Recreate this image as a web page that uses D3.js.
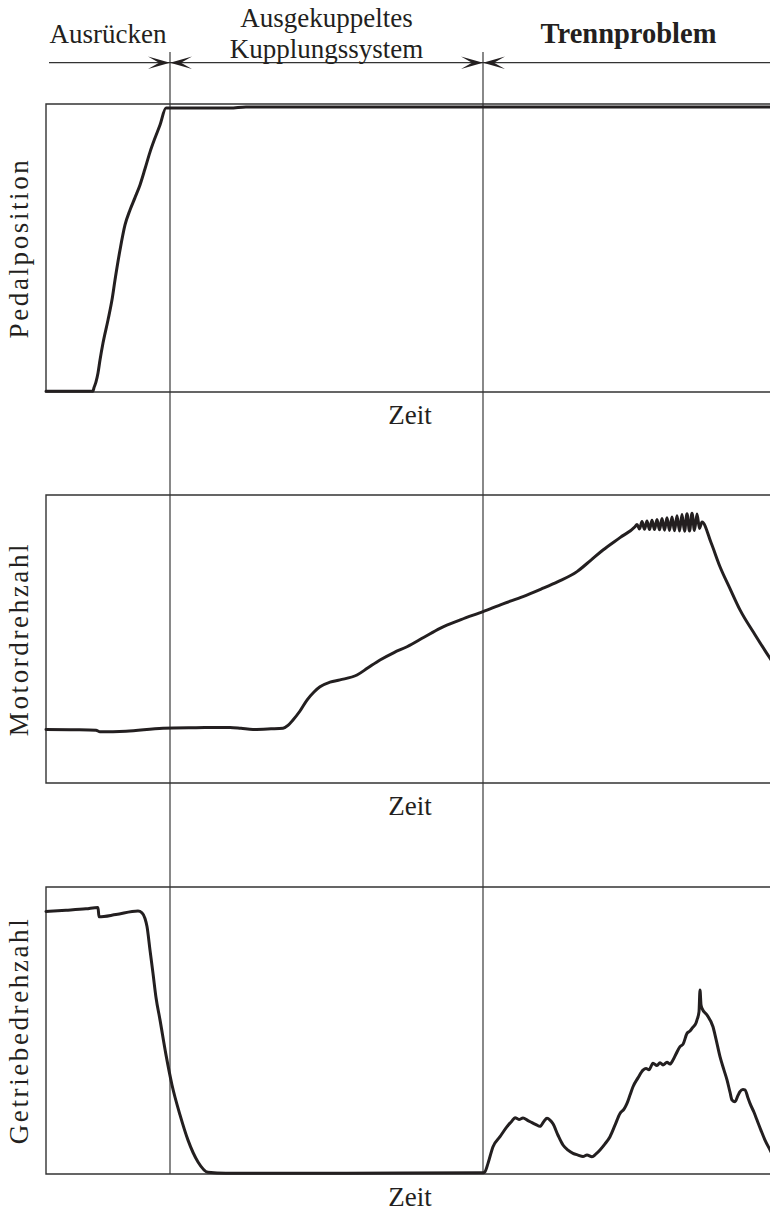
<!DOCTYPE html>
<html><head><meta charset="utf-8">
<script src="https://cdn.jsdelivr.net/npm/d3@7"></script>
<style>
html,body{margin:0;padding:0;background:#fff;}
svg{display:block;}
text{font-family:"Liberation Serif","DejaVu Serif",serif;fill:#231f20;}
</style></head>
<body>
<svg id="chart" width="770" height="1214"></svg>
<script>
// ---- data (time in arbitrary units, values in % of panel range) ----
const phaseLabels = [["Ausrücken"], ["Ausgekuppeltes","Kupplungssystem"], ["Trennproblem"]];
const phaseBounds = [0, 124, 437, 728];
const panelLabels = ["Pedalposition", "Motordrehzahl", "Getriebedrehzahl"];
const xLabel = "Zeit";

const pedalTime  = [0,47,48,50,52,54,57,62,66,69,74,79,84,89,94,99,104,109,114,120,184,200,728];
const pedalValue = [0.3,0.3,1.5,3.5,6.6,11.1,17,25,32,38.9,49.3,58,63.2,67.5,71.9,77.5,83.3,88.2,92.7,98.6,98.6,99.0,99.0];

const motorTime  = [0,30,50,54,80,117,150,184,195,207,225,237,242,247,254,261,268,274,284,294,311,322,334,348,361,378,394,415,437,457,477,495,512,531,545,557,574,589,
  591,593.5,596,598.5,601,603.5,606,608.5,611,613.5,616,618.5,621,623.5,626,628.5,631,633.5,636,638.5,641,643.5,646,648.5,651,653.5,656,
  665,674,684,694,709,724,728];
const motorValue = [18.6,18.5,18.3,17.8,18.0,19.0,19.2,19.3,19.0,18.6,18.8,19.0,20.0,21.9,25,28.8,31.6,33.4,35.0,35.8,37.5,40.0,42.7,45.3,47.3,50.6,53.7,56.7,59.5,62.2,64.7,67.3,69.9,73.4,77.4,80.9,85.2,89.0,
  89.8,88.2,90.8,88.1,91.0,88.0,91.2,88.0,91.5,87.9,91.8,87.8,92.1,87.7,92.4,87.6,92.8,87.5,93.2,87.4,93.5,87.5,93.7,87.7,93.4,88.4,90.6,
  83.5,75.1,67.5,60.1,51.5,43.3,41.2];

const gearTime  = [0,20,40,52,53,70,92,96,99,101,104,107,110,114,120,126,134,142,152,162,180,300,437,439,442,447,454,461,466,469,473,477,482,486,490,494,498,501,504,507,512,517,522,527,532,537,541,546,550,554,559,564,569,574,578,581,584,587,592,597,600,603,607,611,614,617,621,624,627,630,634,637,641,644,647,650,651,653,654,655,656,661,667,670,674,678,681,684,686,689,692,694,697,699,702,704,708,711,715,719,724,728];
const gearValue = [91.5,91.9,92.4,92.9,89.6,90.4,91.6,91.0,89.0,86.2,78,69.9,61.5,53.7,41.5,31.0,20.6,11.8,4.2,0.6,0.3,0.3,0.4,0.8,3.7,9.5,13.0,16.5,18.5,19.6,19.0,19.5,18.6,17.9,17.2,16.6,18.4,19.4,18.8,17.5,13.5,10.1,8.3,7.2,6.6,6.1,6.6,6.0,7.0,8.4,10.5,13.0,17.0,21.1,22.6,24.6,27.5,30.4,33.5,36.2,36.8,36.3,38.6,37.8,38.8,38.0,38.9,38.3,39.7,41.8,44.4,45.2,49.0,49.8,51.2,52.6,53.7,56.5,64.1,59.0,57.7,55.4,51.3,47,40.9,36.2,32.8,28.5,25.8,25.2,27.4,28.7,29.4,29.3,26.5,24.6,21.5,18.8,15.2,11.8,8.4,5.6];

const series = [d3.zip(pedalTime, pedalValue), d3.zip(motorTime, motorValue), d3.zip(gearTime, gearValue)];

// ---- layout ----
const svg = d3.select("#chart");
const left = 46, right = 774;
const panels = [{top:104,bottom:392},{top:495,bottom:783},{top:887,bottom:1174}];
const x = d3.scaleLinear().domain([0, 728]).range([left, right]);
const ink = "#231f20";

// phase boundary vertical lines
[phaseBounds[1], phaseBounds[2]].forEach(t => {
  svg.append("line").attr("x1", x(t)).attr("x2", x(t)).attr("y1", 52).attr("y2", panels[2].bottom)
    .attr("stroke", "#3a3a3a").attr("stroke-width", 1.2);
});

// header arrow line
const arrowY = 62.7;
svg.append("line").attr("x1", x(0) + 3).attr("x2", 775).attr("y1", arrowY).attr("y2", arrowY)
  .attr("stroke", "#333").attr("stroke-width", 1.2);
function arrowHead(xt, dir) {
  const L = 22, h = 6.2, n = 11;
  const p = d3.path();
  p.moveTo(xt, arrowY);
  p.lineTo(xt - dir*L, arrowY - h);
  p.lineTo(xt - dir*n, arrowY);
  p.lineTo(xt - dir*L, arrowY + h);
  p.closePath();
  svg.append("path").attr("d", p.toString()).attr("fill", ink);
}
[phaseBounds[1], phaseBounds[2]].forEach(t => { arrowHead(x(t), 1); arrowHead(x(t), -1); });

// header labels
phaseLabels.forEach((lines, i) => {
  const cx = x((phaseBounds[i] + phaseBounds[i+1]) / 2);
  const bold = i === 2;
  const baseY = lines.length === 1 ? 43.3 : 26.7;
  lines.forEach((ln, j) => {
    svg.append("text").attr("x", cx).attr("y", baseY + j*31.3)
      .attr("text-anchor", "middle")
      .attr("font-size", bold ? 28.5 : 27)
      .attr("font-weight", bold ? "bold" : "normal")
      .text(ln);
  });
});

// panels
panels.forEach((p, i) => {
  const y = d3.scaleLinear().domain([0, 100]).range([p.bottom, p.top]);
  // frame (left, top, bottom; right edge beyond view)
  svg.append("path")
    .attr("d", `M${right + 5},${p.top}H${left}V${p.bottom}H${right + 5}`)
    .attr("fill", "none").attr("stroke", "#333").attr("stroke-width", 1.4);
  // data line
  const line = d3.line().x(d => x(d[0])).y(d => y(d[1])).curve(d3.curveMonotoneX);
  svg.append("path").datum(series[i]).attr("d", line)
    .attr("fill", "none").attr("stroke", ink).attr("stroke-width", 3)
    .attr("stroke-linejoin", "round").attr("stroke-linecap", "round");
  // x label
  svg.append("text").attr("x", (left + right) / 2).attr("y", p.bottom + 32)
    .attr("text-anchor", "middle").attr("font-size", 27).text(xLabel);
  // y label
  svg.append("text")
    .attr("transform", `translate(28,${(p.top + p.bottom) / 2}) rotate(-90)`)
    .attr("text-anchor", "middle").attr("font-size", 27)
    .attr("letter-spacing", "2.6px")
    .text(panelLabels[i]);
});
</script>
</body></html>
